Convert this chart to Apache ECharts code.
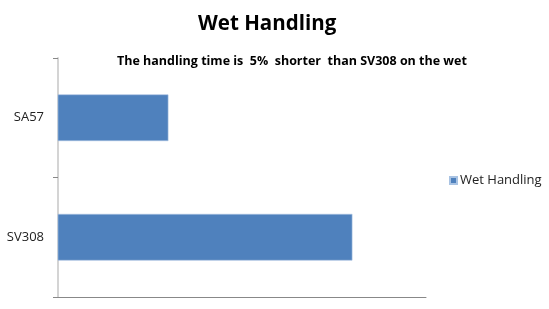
<!DOCTYPE html>
<html>
<head>
<meta charset="utf-8">
<script src="https://cdn.jsdelivr.net/npm/echarts@6/dist/echarts.min.js"></script>
<style>
  html, body { margin: 0; padding: 0; background: #fff; }
  #chart { width: 549px; height: 309px; }
</style>
</head>
<body>
<div id="chart"></div>
<script>
// bottom-to-top order (first category sits at the bottom)
const categories = ['SV308', 'SA57']
const wetHandling = [100, 95]
const seriesName = 'Wet Handling'
const titleText = 'Wet Handling'
const subText = 'The handling time is  5%  shorter  than SV308 on the wet'

const chart = echarts.init(document.getElementById('chart'), null, { renderer: 'canvas' })

chart.setOption({
  backgroundColor: '#fff',
  animation: false,
  textStyle: { fontFamily: '"Open Sans", sans-serif' },
  title: [
    {
      text: titleText,
      left: 193,
      top: 9,
      textStyle: { fontSize: 20.5, fontWeight: 'bold', color: '#000', fontFamily: '"Open Sans", sans-serif' }
    },
    {
      text: subText,
      left: 112,
      top: 50,
      textStyle: { fontSize: 12.5, fontWeight: 'bold', color: '#000', fontFamily: '"Open Sans", sans-serif' }
    }
  ],
  legend: {
    data: [seriesName],
    left: 444,
    top: 169,
    icon: 'rect',
    itemWidth: 7,
    itemHeight: 7,
    itemGap: 4,
    textStyle: { fontSize: 13, color: '#222', fontFamily: '"Open Sans", sans-serif', padding: [0, 0, 0, -2] }
  },
  grid: { left: 58, right: 123, top: 58, bottom: 12 },
  xAxis: {
    type: 'value',
    min: 92,
    max: 102,
    axisLine: { show: true, lineStyle: { color: '#888', width: 1 } },
    axisTick: { show: false },
    axisLabel: { show: false },
    splitLine: { show: false }
  },
  yAxis: {
    type: 'category',
    data: categories,
    axisLine: { show: true, lineStyle: { color: '#d4d4d4', width: 2 } },
    axisTick: { show: true, length: 5, lineStyle: { color: '#888' } },
    axisLabel: { color: '#222', fontSize: 13, margin: 14 }
  },
  series: [{
    name: seriesName,
    type: 'bar',
    data: wetHandling,
    barWidth: '39%',
    itemStyle: { color: '#4f81bd', borderColor: '#a9c3e3', borderWidth: 0.6 }
  }]
})
</script>
</body>
</html>
